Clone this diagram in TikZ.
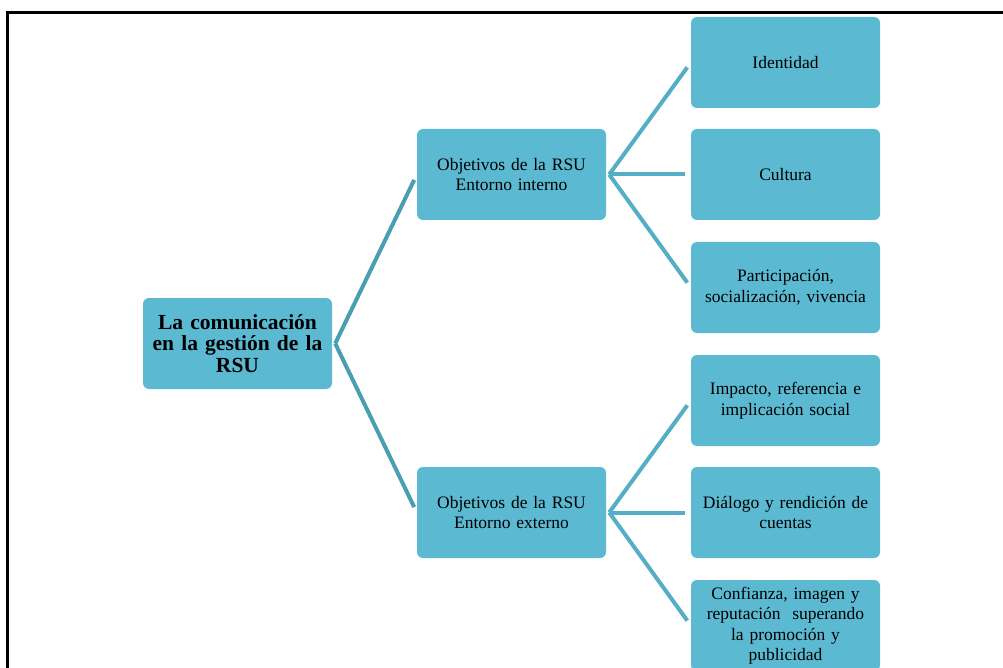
\documentclass[tikz,border=0pt]{standalone}
\usepackage{fontspec}
\setmainfont{Liberation Serif}
\usetikzlibrary{calc}
\definecolor{boxfill}{RGB}{91,185,209}
\definecolor{linkdark}{RGB}{74,158,178}
\definecolor{linklight}{RGB}{84,175,198}
\tikzset {
    box/.style = {
        rounded corners = 6pt,
        fill = boxfill,
        minimum width = 189pt,
        minimum height = 91pt,
        text width = 186pt,
        align = center,
        inner sep = 0pt,
        font = \fontsize{17.5}{20.5}\selectfont
    },
    root box/.style = {box, font = \bfseries\fontsize{21.5}{21.5}\selectfont},
    branch/.style = {line width = 4pt, shorten >= 6pt},
    %
    outer branch/.style = {branch, draw = linkdark},
    inner branch/.style = {branch, draw = linklight}
}
\begin{document}
\begin{tikzpicture}[x = 1pt, y = -1pt]
    \useasboundingbox (0, 0) rectangle (1003, 668);
    \draw [line width = 3pt] (7, 668) -- (7, 13) -- (1003, 13);
    % root and objectives
    \node (rsu) [root box] at (237.5, 343.5) {La comunicación\\en la gestión de la\\RSU};
    \node (interno) [box] at (511.5, 174.5) {Objetivos de la RSU\\Entorno interno};
    \node (externo) [box] at (511.5, 512.5) {Objetivos de la RSU\\Entorno externo};
    % internal leaves
    \node (identidad) [box] at (785.5, 62.5) {Identidad};
    \node (cultura) [box] at (785.5, 174.5) {Cultura};
    \node (participacion) [box] at (785.5, 287.5) {Participación,\\socialización, vivencia};
    % external leaves
    \node (impacto) [box] at (785.5, 400.5) {Impacto, referencia e\\implicación social};
    \node (dialogo) [box] at (785.5, 512.5) {Diálogo y rendición de\\cuentas};
    \node (confianza) [box] at (785.5, 625.5) {Confianza, imagen y\\reputación~ superando\\la promoción y\\publicidad};
    \draw [outer branch] ([xshift = 3pt] rsu.east) -- (interno.west);
    \draw [outer branch] ([xshift = 3pt] rsu.east) -- (externo.west);
    \foreach \leaf in {identidad, cultura, participacion}
        \draw [inner branch] ([xshift = 3pt] interno.east) -- (\leaf.west);
    \foreach \leaf in {impacto, dialogo, confianza}
        \draw [inner branch] ([xshift = 3pt] externo.east) -- (\leaf.west);
\end{tikzpicture}
\end{document}
